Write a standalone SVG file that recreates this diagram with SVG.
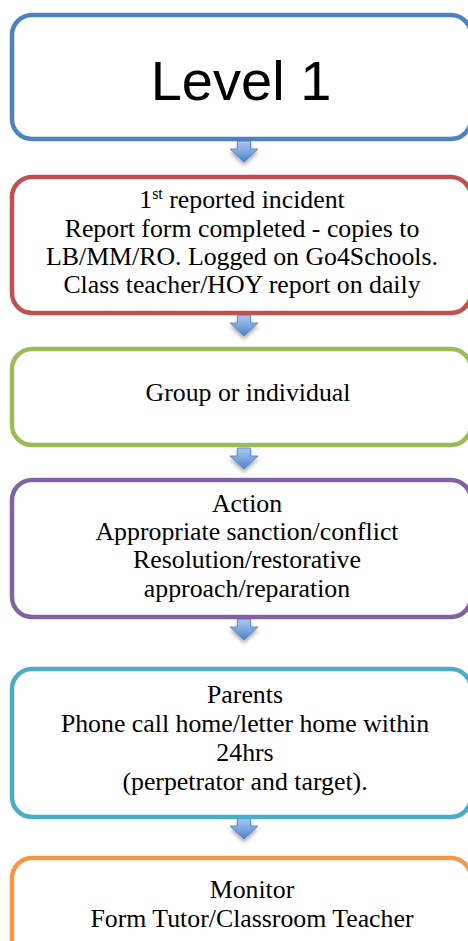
<svg xmlns="http://www.w3.org/2000/svg" width="468" height="941" viewBox="0 0 468 941">
<style>
.box{fill:#fff;stroke-width:4.5}
.t{font-family:"Liberation Serif","Times New Roman",serif;font-size:25.8px;fill:#000;text-anchor:middle}
.big{font-family:"Liberation Sans",Arial,sans-serif;font-size:56px;fill:#000;text-anchor:middle}
.arr{fill:url(#ag);stroke:#4a7ebb;stroke-width:0.8;filter:url(#sh)}
</style>
<defs>
<linearGradient id="ag" x1="0" y1="0" x2="0" y2="1">
<stop offset="0" stop-color="#a9c8f2"/>
<stop offset="0.5" stop-color="#7fa8e3"/>
<stop offset="1" stop-color="#4a7ec6"/>
</linearGradient>
<filter id="sh" x="-50%" y="-50%" width="200%" height="200%">
<feGaussianBlur in="SourceAlpha" stdDeviation="2"/>
<feOffset dy="3" result="b"/>
<feComponentTransfer><feFuncA type="linear" slope="0.35"/></feComponentTransfer>
<feMerge><feMergeNode/><feMergeNode in="SourceGraphic"/></feMerge>
</filter>
<path id="arrow" d="M-6.5 0H6.5V8H14L0 21L-14 8H-6.5Z"/>
</defs>
<rect width="468" height="941" fill="#fff"/>
<g id="connectors">
<use href="#arrow" class="arr" x="244" y="141"/>
<use href="#arrow" class="arr" x="244" y="315"/>
<use href="#arrow" class="arr" x="244" y="448"/>
<use href="#arrow" class="arr" x="244" y="619"/>
<use href="#arrow" class="arr" x="244" y="818"/>
</g>
<g id="level1">
<rect class="box" x="12" y="15" width="459" height="124" rx="20" stroke="#4F81BD"/>
<text class="big" x="241" y="100">Level 1</text>
</g>
<g id="incident">
<rect class="box" x="12" y="177" width="459" height="136" rx="20" stroke="#C0504D"/>
<text class="t" x="242" y="208">1<tspan font-size="16" dy="-9">st</tspan><tspan dy="9"> reported incident</tspan></text>
<text class="t" x="242" y="237">Report form completed - copies to</text>
<text class="t" x="242" y="265">LB/MM/RO. Logged on Go4Schools.</text>
<text class="t" x="242" y="293">Class teacher/HOY report on daily</text>
</g>
<g id="group">
<rect class="box" x="12" y="349" width="459" height="96" rx="20" stroke="#9BBB59"/>
<text class="t" x="248" y="401">Group or individual</text>
</g>
<g id="action">
<rect class="box" x="12" y="480" width="459" height="137" rx="20" stroke="#8064A2"/>
<text class="t" x="247" y="512">Action</text>
<text class="t" x="247" y="540">Appropriate sanction/conflict</text>
<text class="t" x="247" y="568">Resolution/restorative</text>
<text class="t" x="247" y="597">approach/reparation</text>
</g>
<g id="parents">
<rect class="box" x="12" y="669" width="459" height="148" rx="20" stroke="#4BACC6"/>
<text class="t" x="245" y="703">Parents</text>
<text class="t" x="245" y="732">Phone call home/letter home within</text>
<text class="t" x="245" y="761">24hrs</text>
<text class="t" x="245" y="790">(perpetrator and target).</text>
</g>
<g id="monitor">
<rect class="box" x="12" y="858" width="459" height="120" rx="20" stroke="#F79646"/>
<text class="t" x="252" y="898">Monitor</text>
<text class="t" x="252" y="927">Form Tutor/Classroom Teacher</text>
</g>
</svg>
